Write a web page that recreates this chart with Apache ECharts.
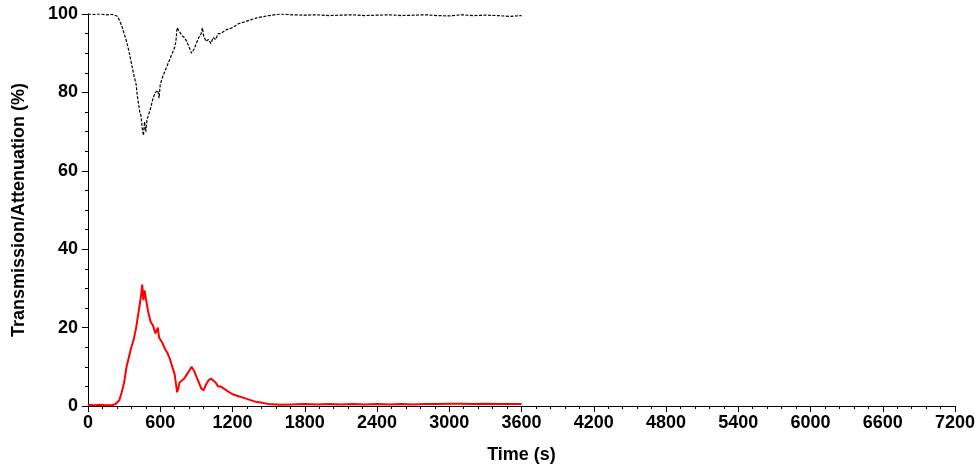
<!DOCTYPE html>
<html>
<head>
<meta charset="utf-8">
<script src="https://cdn.jsdelivr.net/npm/echarts@6/dist/echarts.min.js"></script>
<style>html,body{margin:0;padding:0;background:#fff}#chart{width:980px;height:470px}</style>
</head>
<body>
<div id="chart"></div>
<script>
// time (s) and transmission (%) - black trace
const transTime = [0,50,100,150,200,240,260,280,300,320,340,350,370,380,400,410,420,430,440,450,460,470,480,490,500,520,540,560,580,590,600,620,640,660,680,700,720,730,740,760,780,800,820,840,860,870,880,900,920,940,950,960,980,1000,1020,1040,1060,1080,1100,1150,1200,1250,1300,1350,1400,1450,1500,1600,1700,1800,1900,2000,2100,2200,2300,2400,2500,2600,2700,2800,2900,3000,3100,3200,3300,3400,3500,3600];
const transValue = [100,99.9,100,99.8,99.9,99.5,98.5,97,95,93,90.5,89,86,84.5,82,79,77,75,74,71,69,72.5,70,73,74,76,78.5,80,80.5,78.5,82,84,85.5,87,88.5,90,91.5,93,96.5,95.5,94.5,94,93,91.5,90,89.5,91,92.5,94,95,96.5,94.5,93,93.5,92.5,94,93.5,95,95,96,96.5,97.5,98,98.5,99,99.3,99.6,100,99.8,99.7,99.8,99.6,99.7,99.8,99.6,99.7,99.8,99.6,99.7,99.8,99.6,99.5,99.8,99.6,99.7,99.6,99.4,99.6];
// time (s) and attenuation (%) - red trace
const attTime = [0,50,100,150,200,230,260,280,300,320,340,360,380,400,420,430,440,450,460,470,480,490,500,520,540,560,580,590,600,620,640,660,680,700,720,740,750,760,780,800,820,840,860,870,880,900,920,940,960,980,1000,1020,1040,1060,1080,1100,1150,1200,1250,1300,1350,1400,1450,1500,1600,1700,1800,1900,2000,2100,2200,2300,2400,2500,2600,2700,2800,2900,3000,3100,3200,3300,3400,3500,3600];
const attValue = [0.3,0.2,0.3,0.2,0.2,0.5,1.5,3.5,6,10,12.5,15,17,20,24,26,28,31,27,29.5,27.5,28,24,21.5,20.5,18.5,20,17.5,18,16,14.5,13.5,12,10,8,3.5,4.5,6,6.5,7,8,9,10,9.5,9,7.5,6,4.5,4,5.5,6.5,7,6.5,6,5,5,4,3,2.5,2,1.5,1,0.8,0.5,0.3,0.4,0.5,0.4,0.5,0.4,0.5,0.4,0.5,0.4,0.5,0.4,0.5,0.5,0.6,0.6,0.5,0.6,0.5,0.5,0.5];
const xTicks = [0,600,1200,1800,2400,3000,3600,4200,4800,5400,6000,6600,7200];

const chart = echarts.init(document.getElementById("chart"));
const zip = (t, v) => t.map((x, i) => [x, v[i]]);
const axisFont = { fontFamily: "Liberation Sans", fontWeight: "bold", fontSize: 18, color: "#000" };

chart.setOption({
  animation: false,
  grid: { left: 88, right: 25, top: 14, bottom: 64 },
  xAxis: {
    type: "value", min: xTicks[0], max: xTicks[xTicks.length - 1], interval: 600,
    name: "Time (s)", nameLocation: "middle", nameGap: 40,
    nameTextStyle: axisFont,
    axisLine: { lineStyle: { color: "#000", width: 1 } },
    axisTick: { length: 6, lineStyle: { color: "#000" } },
    minorTick: { show: true, splitNumber: 5, length: 3, lineStyle: { color: "#000" } },
    axisLabel: { ...axisFont, margin: 8, formatter: v => String(v) },
    splitLine: { show: false }
  },
  yAxis: {
    type: "value", min: 0, max: 100, interval: 20,
    name: "Transmission/Attenuation (%)", nameLocation: "middle", nameGap: 60,
    nameTextStyle: axisFont,
    axisLine: { show: true, lineStyle: { color: "#000", width: 1 } },
    axisTick: { show: true, length: 6, lineStyle: { color: "#000" } },
    minorTick: { show: true, splitNumber: 4, length: 3, lineStyle: { color: "#000" } },
    axisLabel: { ...axisFont, margin: 10 },
    splitLine: { show: false }
  },
  series: [
    { type: "line", data: zip(transTime, transValue), showSymbol: false,
      lineStyle: { color: "#000", width: 1.2, type: [3, 1.5] } },
    { type: "line", data: zip(attTime, attValue), showSymbol: false,
      lineStyle: { color: "#ff0000", width: 2 } }
  ]
});
window.addEventListener("resize", () => chart.resize());
</script>
</body>
</html>
